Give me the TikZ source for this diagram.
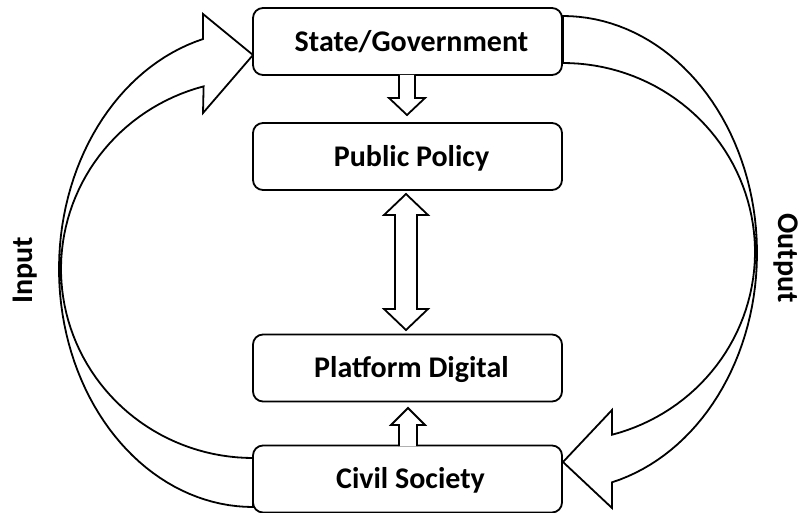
\documentclass[tikz,border=0pt]{standalone}
\usepackage{fontspec}
\setmainfont{Carlito}
\begin{document}
\begin{tikzpicture}[x=1pt,y=-1pt,line width=1.8pt,
  txt/.style={font=\fontsize{30}{36}\selectfont\bfseries, inner sep=0pt, text height=19.3pt, text depth=0pt},
  box/.style={txt, draw, fill=white, rounded corners=10pt, minimum width=309pt, minimum height=67pt},
  barrow/.style={draw, fill=white, line join=miter, miter limit=10}]
\useasboundingbox (0,0) rectangle (802,513);
% curved block arrows
\draw[barrow] (253,507) -- plot[domain=90:255.07,samples=70] ({253+194*cos(\x)},{269+238*sin(\x)})
  -- (203,14) -- (253,55) -- (203,113)
  -- plot[domain=255.09:90,samples=70] ({253+192*cos(\x)},{269+189*sin(\x)}) -- cycle;
\draw[barrow] (563,16) -- plot[domain=-90:75.37,samples=70] ({563+194*cos(\x)},{253+237*sin(\x)})
  -- (612,508) -- (563,462) -- (612,410)
  -- plot[domain=75.21:-90,samples=70] ({563+192*cos(\x)},{252+189*sin(\x)}) -- cycle;
% boxes
\node[box] (sg) at (407.5,41.5) {\hspace*{8pt}State/Government};
\node[box] (pp) at (407.5,156.5) {\hspace*{8pt}Public Policy};
\node[box] (pd) at (407.5,368) {\hspace*{8pt}Platform Digital};
\node[box] (cs) at (407.5,479) {\hspace*{6pt}Civil Society};
% straight block arrows
\draw[barrow] (399,75) -- (399,98) -- (389,98) -- (407,115) -- (425,98) -- (415,98) -- (415,75);
\draw[barrow] (406,194) -- (428,215) -- (417,215) -- (417,309) -- (428,309) -- (406,330)
  -- (384,309) -- (395,309) -- (395,215) -- (384,215) -- cycle;
\draw[barrow] (399,446) -- (399,425) -- (391,425) -- (408,408) -- (425,425) -- (417,425) -- (417,446);
% labels
\node[txt, rotate=90] (in) at (23,270) {Input};
\node[txt, rotate=-90] (out) at (788,258) {Output};
\end{tikzpicture}
\end{document}
